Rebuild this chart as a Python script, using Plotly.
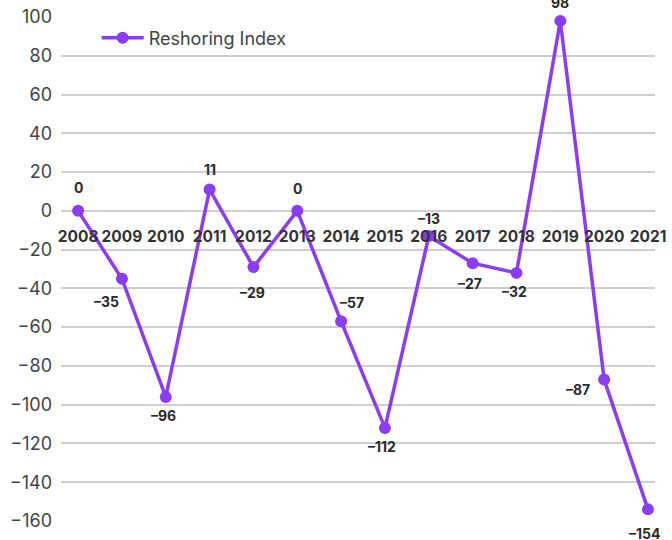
import plotly.graph_objects as go

years = ["2008", "2009", "2010", "2011", "2012", "2013", "2014", "2015",
         "2016", "2017", "2018", "2019", "2020", "2021"]
values = [0, -35, -96, 11, -29, 0, -57, -112, -13, -27, -32, 98, -87, -154]
# label offsets in pixels (dx, dy-down) relative to each point
label_dx = [0, -15, -2, 0, -1, 0, 11, -3, 0, -3, -2, 0, -26, -3]
label_dy = [-23, 23, 19, -20, 25, -22, -19, 19, -18, 20, 19, -18, 10, 24]

purple = "#8B3DF5"
idx = list(range(len(years)))

fig = go.Figure()
fig.add_trace(go.Scatter(
    x=idx, y=values, mode="lines+markers", name="Reshoring Index",
    line=dict(color=purple, width=3.5),
    marker=dict(color=purple, size=12),
    cliponaxis=False,
))

for i, v, dx, dy in zip(idx, values, label_dx, label_dy):
    fig.add_annotation(
        x=i, y=v, xref="x", yref="y", text=str(v).replace("-", "\u2013"),
        showarrow=False, xshift=dx, yshift=-dy,
        font=dict(family="Inter", size=14, color="#2b2b2b", weight="bold"),
    )

ymin, ymax = -160, 100
fig.update_layout(
    width=672, height=540,
    margin=dict(l=61, r=17, t=17, b=19, autoexpand=False),
    paper_bgcolor="white", plot_bgcolor="white",
    font=dict(family="Inter", color="#444"),
    showlegend=True,
    legend=dict(x=0.06, y=0.995, xanchor="left", yanchor="top",
                itemwidth=42,
                bgcolor="rgba(0,0,0,0)", font=dict(size=18, color="#444")),
    xaxis=dict(
        range=[-0.39, 13.16], tickvals=idx, ticktext=years,
        anchor="free", position=(0 - ymin) / (ymax - ymin),
        showgrid=False, zeroline=False, showline=False, ticks="",
        tickfont=dict(family="Inter", size=15.5, color="#333", weight="bold"),
        ticklabelstandoff=15, automargin=False,
    ),
    yaxis=dict(
        range=[ymin, ymax], tickvals=list(range(-160, 101, 20)),
        showgrid=True, gridcolor="#cfcfcf", gridwidth=1.5,
        zeroline=False, showline=False, ticks="",
        tickfont=dict(family="Inter", size=18, color="#444"),
        ticklabelstandoff=8, automargin=False,
    ),
)

fig.write_html(
    "out.html",
    config={"displayModeBar": False},
    post_script="document.body.style.margin='0';document.body.style.overflow='hidden';",
)
